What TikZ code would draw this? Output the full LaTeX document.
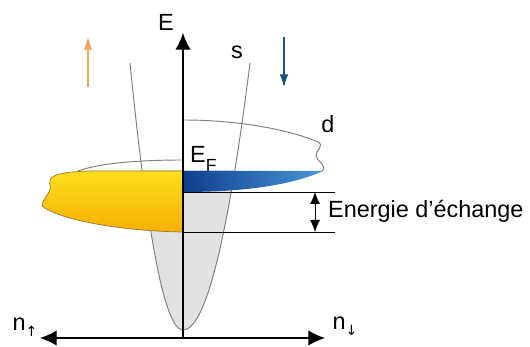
\documentclass[tikz,border=0pt]{standalone}
\usepackage{fontspec}
\setmainfont{Liberation Sans}
\newfontfamily\symfont{DejaVu Sans}
\usetikzlibrary{arrows.meta}
\definecolor{bandgray}{RGB}{125,125,125}
\definecolor{sfill}{RGB}{226,226,226}
\definecolor{upcol}{RGB}{242,166,88}
\definecolor{dncol}{RGB}{28,84,124}
\definecolor{yeltop}{RGB}{255,222,30}
\definecolor{yelbot}{RGB}{245,175,0}
\definecolor{yeledge}{RGB}{150,120,50}
\definecolor{blueleft}{RGB}{16,62,138}
\definecolor{blueright}{RGB}{72,150,215}

\begin{document}
\begin{tikzpicture}[x=0.03cm, y=-0.03cm,
  font=\fontsize{20}{24}\selectfont,
  axis/.style={line width=1.1pt, black},
  band/.style={line width=0.8pt, bandgray},
  level/.style={line width=0.7pt, black},
  spin/.style={line width=0.9pt, -{Latex[length=3.8mm,width=2.6mm]}},
  >={Latex[length=5mm,width=4.6mm]}]
  \useasboundingbox (0,0) rectangle (530,347);
  % axis end points
  \coordinate (O)      at (183,338);
  \coordinate (Etop)   at (183,33);
  \coordinate (nupend) at (40,338);
  \coordinate (ndnend) at (325,338);
  % s band, filled below the Fermi level
  \begin{scope}
    \clip (0,171) rectangle (530,347);
    \fill[sfill] (130,63) .. controls (147.7,241) and (165.3,330) .. (183,330)
      .. controls (205.3,330) and (227.7,241) .. (250,63) -- cycle;
  \end{scope}
  \draw[band] (130,63) .. controls (147.7,241) and (165.3,330) .. (183,330)
    .. controls (205.3,330) and (227.7,241) .. (250,63);
  % d band outlines
  \draw[band] (183,120) .. controls (240,120) and (290,130) .. (318,142)
    .. controls (325,146) and (315,151) .. (316,156)
    .. controls (317,162) and (328,165) .. (322,171);
  \draw[band] (183,160) .. controls (140,160) and (100,163) .. (78,171);
  % spin up d band (filled)
  \shade[top color=yeltop, bottom color=yelbot, draw=yeledge, line width=0.6pt]
    (183,171) -- (95,171) .. controls (75,171) and (60,173) .. (54,176)
    .. controls (46,180) and (52,186) .. (50,190)
    .. controls (48,195) and (42,200) .. (42,206)
    .. controls (60,220) and (120,231) .. (183,232) -- cycle;
  % spin down d band (filled)
  \shade[left color=blueleft, right color=blueright]
    (183,171) -- (323,171) .. controls (290,186) and (240,192) .. (183,192) -- cycle;
  % exchange splitting
  \draw[level] (183,192) -- (335,192);
  \draw[level] (183,232) -- (335,232);
  \draw[level, {Latex[length=3.6mm,width=3mm]}-{Latex[length=3.6mm,width=3mm]}]
    (315,192) -- (315,232);
  \node[anchor=west] (ex) at (324,211) {Energie d’échange};
  % axes
  \draw[axis, ->] (O) -- (Etop);
  \draw[axis, <->] (nupend) -- (ndnend);
  \node (E)   at (166,22) {E};
  \node (nup) at (25,327) {n\raisebox{-5pt}{\symfont\fontsize{12}{12}\selectfont ↑}};
  \node (ndn) at (345,326) {n\raisebox{-5pt}{\symfont\fontsize{12}{12}\selectfont ↓}};
  % labels
  \node[anchor=base west] (EF) at (186,163) {E\raisebox{-7.5pt}{\fontsize{15}{15}\selectfont F}};
  \node (s) at (237,52) {s};
  \node (d) at (328,124) {d};
  % spin arrows
  \draw[spin, upcol] (88,87) -- (88,37);
  \draw[spin, dncol] (284,37) -- (284,87);
\end{tikzpicture}
\end{document}
